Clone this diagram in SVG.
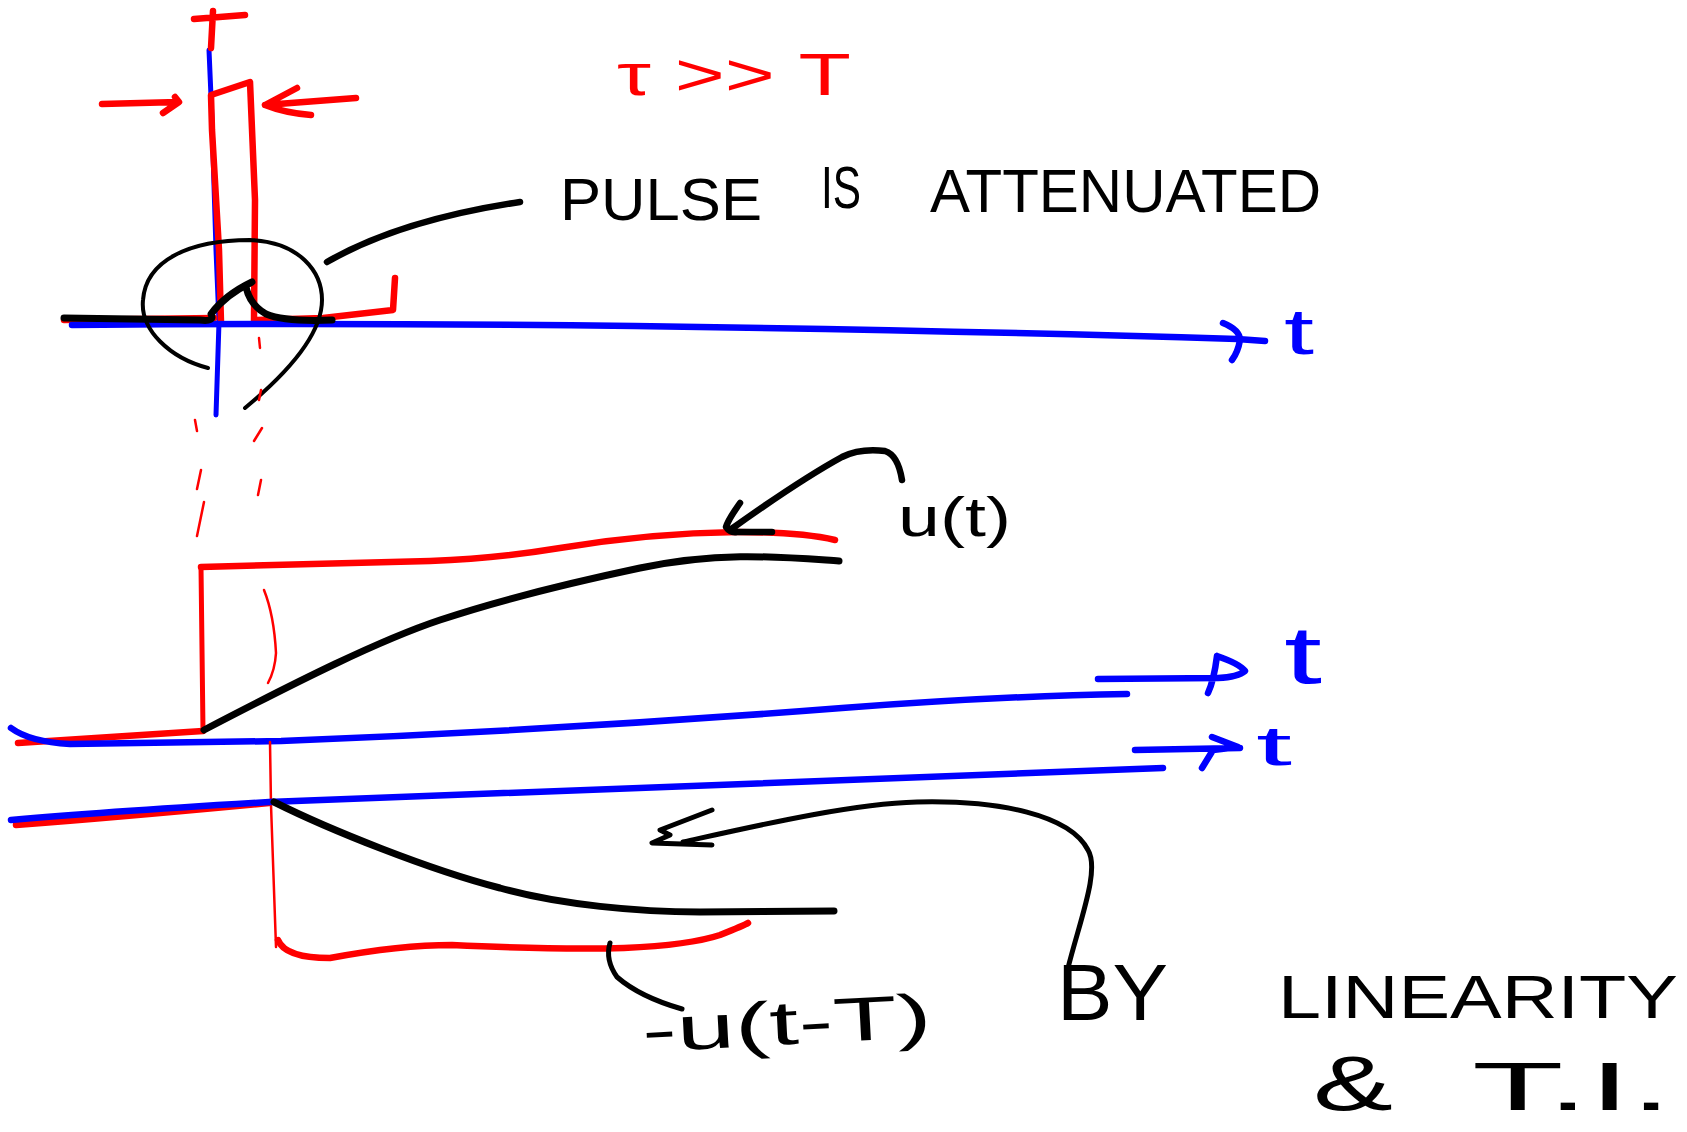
<svg xmlns="http://www.w3.org/2000/svg" width="1687" height="1132" viewBox="0 0 1687 1132">
<style>
path{fill:none;stroke-linecap:round;stroke-linejoin:round}
.r{stroke:#ff0000}
.b{stroke:#0000ff}
.k{stroke:#000000}
.w6{stroke-width:7}
.w5{stroke-width:6.5}
.w4{stroke-width:5}
.w3{stroke-width:4}
.w2{stroke-width:2.5}
text{font-family:"Liberation Sans","DejaVu Sans",sans-serif}
.tk{fill:#000000}
.tr{fill:#ff0000}
.tb{fill:#0000ff}
</style>
<rect width="1687" height="1132" fill="#ffffff"/>

<g id="top-plot">
  <path class="b w4" d="M209,50 L212,120 L216,250 L219,322 L216,415"/>
  <path class="r w5" d="M194,19 L245,15 M213,11 L211,48"/>
  <path class="r w5" d="M64,320 L214,318"/>
  <path class="r w5" d="M221,322 L219,250 L212,130 L211,95 L250,82 L255,200 L254,320 M257,320 L323,318 L393,310 L395,278"/>
  <path class="r w5" d="M102,104 L178,102 M175,97 L179,102 L163,113"/>
  <path class="r w5" d="M356,98 L265,105 M297,88 L265,105 Q285,113 311,115"/>
  <path class="b w5" d="M72,325 Q600,320 1237,339 L1265,341"/>
  <path class="b w5" d="M1223,323 Q1240,330 1240,340 Q1238,352 1232,360"/>
  <path class="k w6" d="M64,318 L200,320 Q215,322 211,314 Q225,295 252,282 M246,287 Q250,305 266,314 Q285,322 332,320"/>
  <path class="k w3" d="M208,368 C170,358 140,330 143,300 C146,260 190,240 250,240 C300,242 322,272 322,300 C322,335 285,375 245,408"/>
  <path class="r w2" d="M195,420 L197,431 M201,470 L197,489 M204,502 L197,536"/>
  <path class="r w2" d="M259,338 L260,348 M261,390 L259,400 M262,428 L254,441 M261,480 L258,495"/>
</g>

<g id="lower-plot-step">
  <path class="r w2" d="M264,590 Q274,615 276,653 Q275,670 268,683"/>
  <path class="r w5" d="M18,743 L203,731"/>
  <path class="r w4" d="M203,731 L201,567"/>
  <path class="r w5" d="M201,567 L430,561 Q500,558 560,548 Q650,533 737,532 Q800,532 835,540"/>
  <path class="k w6" d="M204,730 C300,680 380,640 440,620 S560,585 640,568 S780,557 839,561"/>
  <path class="b w5" d="M11,728 Q30,742 70,744 L281,741 Q560,730 842,708 Q1000,696 1127,694"/>
  <path class="b w5" d="M1098,679 L1220,678 M1217,656 Q1240,664 1245,671 Q1238,677 1218,678 M1217,656 Q1214,680 1208,693"/>
</g>

<g id="lower-plot-delayed">
  <path class="r w2" d="M270,742 L271,805 L276,947"/>
  <path class="r w5" d="M16,825 Q110,818 269,803"/>
  <path class="b w5" d="M11,820 Q100,812 269,802 Q700,785 1163,768"/>
  <path class="b w5" d="M1135,750 L1240,748 M1212,737 L1238,747 L1213,750 L1202,768"/>
  <path class="r w5" d="M278,940 Q285,958 330,958 Q400,945 452,945 Q560,950 624,948 Q690,945 720,935 Q745,925 748,923"/>
  <path class="k w6" d="M274,802 C330,830 430,870 500,888 C560,905 640,912 700,912 L834,911"/>
</g>

<g id="connectors">
  <path class="k w5" d="M327,262 Q400,220 520,202"/>
  <path class="k w5" d="M902,480 Q898,455 885,451 Q860,448 842,457 Q800,480 730,530 M740,503 Q728,520 726,527 Q730,533 737,532 L772,532"/>
  <path class="k w4" d="M682,1009 Q640,997 617,977 Q605,960 610,943"/>
  <path class="k w4" d="M1068,968 C1080,920 1100,870 1088,850 C1070,815 1000,800 917,802 C850,804 760,825 683,842 M712,810 L660,830 L670,835 L652,843 L712,845"/>
</g>

<g id="labels">
  <text class="tr" x="617" y="95" font-size="60" textLength="234" lengthAdjust="spacingAndGlyphs">τ &gt;&gt; T</text>
  <text class="tk" x="560" y="220" font-size="60" textLength="202" lengthAdjust="spacingAndGlyphs">PULSE</text>
  <text class="tk" x="821" y="208" font-size="60" textLength="40" lengthAdjust="spacingAndGlyphs">IS</text>
  <text class="tk" x="930" y="212" font-size="62" textLength="391" lengthAdjust="spacingAndGlyphs">ATTENUATED</text>
  <text class="tb" x="1284" y="354" font-size="64" textLength="30" lengthAdjust="spacingAndGlyphs">t</text>
  <text class="tb" x="1284" y="683" font-size="82" textLength="38" lengthAdjust="spacingAndGlyphs">t</text>
  <text class="tb" x="1256" y="765" font-size="56" textLength="36" lengthAdjust="spacingAndGlyphs">t</text>
  <text class="tk" x="898" y="536" font-size="56" textLength="113" lengthAdjust="spacingAndGlyphs">u(t)</text>
  <text class="tk" x="643" y="1052" font-size="62" textLength="290" lengthAdjust="spacingAndGlyphs" transform="rotate(-3 643 1052)">-u(t-T)</text>
  <text class="tk" x="1057" y="1020" font-size="80" textLength="111" lengthAdjust="spacingAndGlyphs">BY</text>
  <text class="tk" x="1278" y="1018" font-size="62" textLength="400" lengthAdjust="spacingAndGlyphs">LINEARITY</text>
  <text class="tk" x="1313" y="1110" font-size="78" textLength="80" lengthAdjust="spacingAndGlyphs">&amp;</text>
  <text class="tk" x="1472" y="1110" font-size="68" textLength="200" lengthAdjust="spacingAndGlyphs">T.I.</text>
</g>
</svg>
